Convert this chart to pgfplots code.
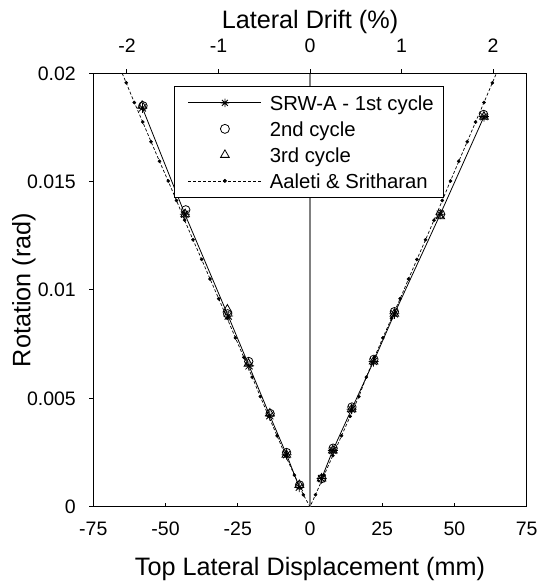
\documentclass[border=0pt]{standalone}
\usepackage{fontspec}
\setmainfont{Liberation Sans}
\usepackage{pgfplots}
\pgfplotsset{compat=1.18}
\definecolor{zeroline}{HTML}{808080}
\pgfdeclareplotmark{star8}{%
 \pgfpathmoveto{\pgfqpoint{-\pgfplotmarksize}{0pt}}\pgfpathlineto{\pgfqpoint{\pgfplotmarksize}{0pt}}%
 \pgfpathmoveto{\pgfqpoint{0pt}{-\pgfplotmarksize}}\pgfpathlineto{\pgfqpoint{0pt}{\pgfplotmarksize}}%
 \pgfpathmoveto{\pgfqpoint{-0.707\pgfplotmarksize}{-0.707\pgfplotmarksize}}\pgfpathlineto{\pgfqpoint{0.707\pgfplotmarksize}{0.707\pgfplotmarksize}}%
 \pgfpathmoveto{\pgfqpoint{-0.707\pgfplotmarksize}{0.707\pgfplotmarksize}}\pgfpathlineto{\pgfqpoint{0.707\pgfplotmarksize}{-0.707\pgfplotmarksize}}%
 \pgfusepathqstroke}
\begin{document}
\begin{tikzpicture}
\pgfplotsset{
  every tick label/.append style={font=\fontsize{19.5}{23}\selectfont},
  every axis label/.append style={font=\fontsize{25.2}{29}\selectfont},
}
\begin{axis}[name=ax,
  scale only axis, width=433.4pt, height=433.4pt,
  xmin=-75, xmax=75, ymin=0, ymax=0.02,
  axis line style={line width=1pt},
  xtick={-75,-50,-25,0,25,50,75},
  xticklabels={-75,-50,-25,0,25,50,75},
  ytick={0,0.005,0.01,0.015,0.02},
  yticklabels={0,0.005,0.01,0.015,0.02},
  scaled y ticks=false,
  xtick pos=left, ytick pos=left,
  xtick align=inside, ytick align=outside,
  major tick length=4pt,
  every tick/.style={black, line width=1pt},
  xticklabel style={anchor=base, yshift=-28.3pt},
  yticklabel style={anchor=east, inner sep=0pt, xshift=-13.3pt},
  xlabel={Top Lateral Displacement (mm)},
  ylabel={Rotation (rad)},
  x label style={at={(axis description cs:0.5,-0.1576)}, anchor=base},
  y label style={at={(axis description cs:-0.1454,0.5)}, anchor=base},
  legend style={at={(0.186,0.971)}, anchor=north west, draw=black, line width=1pt, fill=white,
    font=\fontsize{20.3}{24}\selectfont, inner xsep=10pt, inner ysep=7pt, row sep=7pt, column sep=8pt,
    nodes={inner sep=0pt, text height=17pt, text depth=2pt}},
  legend cell align=left,
]
% legend images
\addlegendimage{black, line width=0.8pt, mark=star8, mark size=4.2pt,
  legend image code/.code={\path[draw=none] (0pt,0pt) -- (77pt,0pt); \draw[mark repeat=2, mark phase=2] plot coordinates {(4pt,0pt) (40.5pt,0pt) (77pt,0pt)};}}
\addlegendentry{SRW-A - 1st cycle}
\addlegendimage{black, line width=0.8pt, mark=o, mark size=4.5pt,
  legend image code/.code={\path[draw=none] (0pt,0pt) -- (77pt,0pt); \draw plot[only marks] coordinates {(40.5pt,0pt)};}}
\addlegendentry{2nd cycle}
\addlegendimage{black, line width=0.8pt, mark=triangle, mark size=5pt,
  legend image code/.code={\path[draw=none] (0pt,0pt) -- (77pt,0pt); \draw plot[only marks] coordinates {(40.5pt,0pt)};}}
\addlegendentry{3rd cycle}
\addlegendimage{black, line width=0.7pt, dash pattern=on 3pt off 2pt,
  legend image code/.code={\path[draw=none] (0pt,0pt) -- (77pt,0pt); \draw (4pt,0pt) -- (77pt,0pt); \fill[black, solid] (40.5pt,0pt) circle (1.6pt);}}
\addlegendentry{Aaleti \& Sritharan}

% zero line
\addplot[forget plot, zeroline, line width=1.2pt] coordinates {(0,0) (0,0.02)};

% Aaleti & Sritharan (dashed line with dots)
\addplot[forget plot, black, line width=0.7pt, dash pattern=on 3pt off 2pt] coordinates {
(-65.0,0.02000) (-63.6,0.01956) (-60.8,0.01865) (-57.9,0.01775) (-55.0,0.01684) (-52.1,0.01594)
(-49.1,0.01503) (-46.2,0.01413) (-43.4,0.01322) (-40.5,0.01232) (-37.5,0.01141) (-34.6,0.01051)
(-31.6,0.00960) (-28.7,0.00870) (-25.8,0.00779) (-22.9,0.00689) (-20.0,0.00598) (-17.2,0.00508)
(-14.3,0.00417) (-11.4,0.00327) (-8.5,0.00236) (-5.4,0.00146) (-2.3,0.00055) (0,0)
(1.9,0.00055) (4.9,0.00146) (7.9,0.00236) (10.9,0.00327) (13.9,0.00417) (16.9,0.00508)
(19.5,0.00598) (22.3,0.00689) (25.2,0.00779) (28.2,0.00870) (31.2,0.00960) (34.1,0.01051)
(37.0,0.01141) (40.0,0.01232) (42.9,0.01322) (45.8,0.01413) (48.6,0.01503) (51.5,0.01594)
(54.4,0.01684) (57.3,0.01775) (60.2,0.01865) (63.1,0.01956) (64.5,0.02000)};
\addplot[forget plot, black, only marks, mark=*, mark size=1.6pt] coordinates {
(-63.6,0.01956) (-60.8,0.01865) (-57.9,0.01775) (-55.0,0.01684) (-52.1,0.01594)
(-49.1,0.01503) (-46.2,0.01413) (-43.4,0.01322) (-40.5,0.01232) (-37.5,0.01141) (-34.6,0.01051)
(-31.6,0.00960) (-28.7,0.00870) (-25.8,0.00779) (-22.9,0.00689) (-20.0,0.00598) (-17.2,0.00508)
(-14.3,0.00417) (-11.4,0.00327) (-8.5,0.00236) (-5.4,0.00146) (-2.3,0.00055)
(1.9,0.00055) (4.9,0.00146) (7.9,0.00236) (10.9,0.00327) (13.9,0.00417) (16.9,0.00508)
(19.5,0.00598) (22.3,0.00689) (25.2,0.00779) (28.2,0.00870) (31.2,0.00960) (34.1,0.01051)
(37.0,0.01141) (40.0,0.01232) (42.9,0.01322) (45.8,0.01413) (48.6,0.01503) (51.5,0.01594)
(54.4,0.01684) (57.3,0.01775) (60.2,0.01865) (63.1,0.01956)};

% SRW-A 1st cycle
\addplot[forget plot, black, line width=0.8pt, mark=star8, mark size=5pt] coordinates {
(-58.0,0.0184) (-43.3,0.0135) (-28.3,0.0088) (-21.1,0.0065) (-13.9,0.0042) (-8.1,0.0024) (-3.7,0.0009)};
\addplot[forget plot, black, line width=0.8pt, mark=star8, mark size=5pt] coordinates {
(4.0,0.0013) (7.9,0.0026) (14.4,0.0045) (22.0,0.0067) (29.2,0.0089) (45.1,0.0135) (60.2,0.0180)};

% 2nd cycle
\addplot[forget plot, black, line width=0.8pt, only marks, mark=o, mark size=4.2pt] coordinates {
(-57.8,0.0185) (-43.0,0.0137) (-28.5,0.0089) (-21.2,0.0067) (-13.8,0.0043) (-8.1,0.0025) (-3.6,0.0010)
(4.1,0.0013) (8.0,0.0027) (14.5,0.0046) (22.1,0.0068) (29.2,0.0090) (45.2,0.0135) (60.1,0.0181)};

% 3rd cycle
\addplot[forget plot, black, line width=0.8pt, only marks, mark=triangle, mark size=5pt] coordinates {
(-58.1,0.0185) (-43.2,0.0135) (-28.6,0.0091) (-21.3,0.0066) (-13.9,0.0043) (-8.2,0.0024) (-3.7,0.0010)
(4.0,0.0013) (7.9,0.0026) (14.4,0.0045) (22.0,0.0067) (29.2,0.0089) (45.1,0.0134) (60.2,0.0180)};
\end{axis}

\begin{axis}[at={(ax.south west)}, anchor=south west,
  scale only axis, width=433.4pt, height=433.4pt,
  xmin=-2.368, xmax=2.368, ymin=0, ymax=0.02,
  axis x line*=top, hide y axis,
  axis line style={-, line width=1pt},
  xtick={-2,-1,0,1,2}, xticklabels={-2,-1,0,1,2},
  xtick align=outside, major tick length=4pt,
  every tick/.style={black, line width=1pt},
  xticklabel style={anchor=base, yshift=16.6pt},
  xlabel={Lateral Drift (\%)},
  x label style={at={(axis description cs:0.5,1.1038)}, anchor=base},
]
\addplot[draw=none] coordinates {(0,0.01)};
\end{axis}
\path (ax.south west) ++(-93.3pt,-79.3pt) rectangle ++(540pt,586pt);
\end{tikzpicture}
\end{document}
